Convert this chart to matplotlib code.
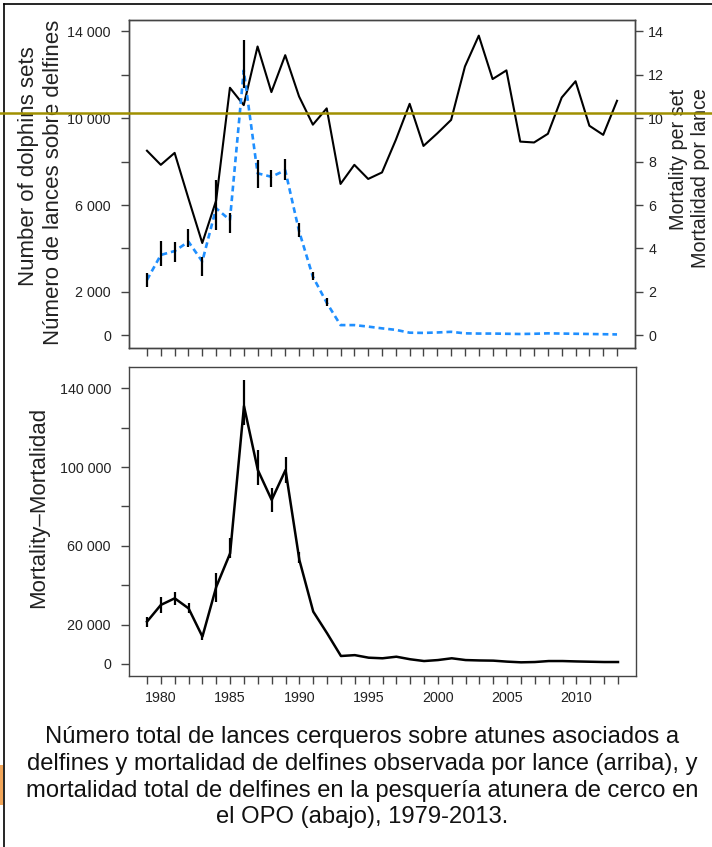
import numpy as np, matplotlib; matplotlib.use("Agg")
import matplotlib.pyplot as plt
from matplotlib.lines import Line2D
from matplotlib.patches import Rectangle

plt.rcParams['font.family'] = ['Liberation Sans', 'DejaVu Sans']

years = list(range(1979, 2014))
# number of dolphin sets (left axis, top panel)
sets = [8500, 7850, 8400, 6300, 4250, 6200, 11400, 10600, 13300, 11200,
        12900, 11000, 9700, 10450, 6970, 7850, 7200, 7500, 9000, 10660,
        8720, 9300, 9920, 12380, 13800, 11800, 12200, 8920, 8880, 9280,
        10950, 11700, 9650, 9230, 10800]
# mortality per set (right axis, top panel)
mps = [2.55, 3.70, 3.88, 4.31, 3.40, 5.85, 5.31, 12.2, 7.46, 7.30,
       7.60, 4.80, 2.70, 1.50, 0.47, 0.47, 0.40, 0.32, 0.25, 0.12,
       0.11, 0.13, 0.16, 0.09, 0.08, 0.08, 0.07, 0.06, 0.07, 0.09,
       0.08, 0.07, 0.06, 0.05, 0.04]
mps_err_years = [1979, 1980, 1981, 1982, 1983, 1984, 1985, 1986, 1987, 1988, 1989, 1990, 1991, 1992]
mps_lo = [2.21, 3.19, 3.39, 4.08, 2.73, 4.85, 4.70, 11.4, 6.77, 6.84, 7.15, 4.54, 2.55, 1.35]
mps_hi = [2.86, 4.34, 4.31, 4.88, 3.62, 7.15, 5.62, 13.6, 8.07, 7.61, 8.10, 5.16, 2.93, 1.70]
# total mortality (bottom panel)
mort = [21500, 30000, 33350, 28250, 13900, 39200, 56200, 131000, 98500, 83300,
        98500, 52800, 26600, 15600, 4060, 4500, 3200, 2900, 3700, 2400,
        1500, 2000, 2900, 2000, 1800, 1700, 1200, 850, 1000, 1500,
        1500, 1300, 1150, 1000, 1000]
mort_err_years = [1979, 1980, 1981, 1982, 1983, 1984, 1985, 1986, 1987, 1988, 1989, 1990]
mort_lo = [18950, 25700, 29960, 25700, 12200, 31650, 53700, 121400, 90900, 77300, 91800, 51100]
mort_hi = [24000, 34200, 36700, 30800, 15600, 46400, 63800, 144200, 108700, 89200, 105300, 57000]

left_ticks = list(range(0, 14001, 2000))
left_labels = ['0', '2 000', '', '6 000', '', '10 000', '', '14 000']
right_ticks = list(range(0, 15, 2))
bot_ticks = list(range(0, 140001, 20000))
bot_labels = ['0', '20 000', '', '60 000', '', '100 000', '', '140 000']
year_labels = list(range(1980, 2011, 5))

caption = ["Número total de lances cerqueros sobre atunes asociados a",
           "delfines y mortalidad de delfines observada por lance (arriba), y",
           "mortalidad total de delfines en la pesquería atunera de cerco en",
           "el OPO (abajo), 1979-2013."]

W, H = 712, 847
fig = plt.figure(figsize=(W/100, H/100), dpi=100)
BLUE = '#1f8fff'; SP = '#444444'

ax1 = fig.add_axes([129/W, 1-348/H, 506/W, 328/H])
ax2 = ax1.twinx()
ax3 = fig.add_axes([129/W, 1-676/H, 507/W, 309/H])

ax1.plot(years, sets, color='black', lw=1.5, zorder=3)
ax2.plot(years, mps, color=BLUE, lw=1.9, dashes=(2.2, 1.5), zorder=2)
ax2.vlines(mps_err_years, mps_lo, mps_hi, color='black', lw=1.6, zorder=4)
ax1.set_xlim(1977.7, 2014.3)
ax1.set_ylim(-585, 14520); ax2.set_ylim(-0.585, 14.52)
ax1.set_xticks(years); ax1.set_xticklabels([])
ax1.set_yticks(left_ticks); ax1.set_yticklabels(left_labels)
ax2.set_yticks(right_ticks)

ax3.plot(years, mort, color='black', lw=1.8, zorder=3)
ax3.vlines(mort_err_years, mort_lo, mort_hi, color='black', lw=1.6, zorder=4)
ax3.set_xlim(1977.7, 2014.3); ax3.set_ylim(-6094, 150800)
ax3.set_xticks(years)
ax3.set_xticklabels([str(y) if y in year_labels else '' for y in years])
ax3.set_yticks(bot_ticks); ax3.set_yticklabels(bot_labels)

for a in [ax1, ax2, ax3]:
    for s in a.spines.values(): s.set_color(SP); s.set_linewidth(1.0)
    a.tick_params(colors=SP, labelcolor='#222', labelsize=10.3, length=6, width=1.0)
ax1.tick_params(axis='y', pad=7); ax3.tick_params(axis='y', pad=7)
ax2.tick_params(axis='y', pad=3.5)
ax1.tick_params(axis='x', length=5.5)
ax3.tick_params(axis='x', pad=5)

fig.text(29/W, 1-166/H, "Number of dolphins sets", rotation=90, ha='center', va='center', fontsize=16, color='#222')
fig.text(54/W, 1-182/H, "Número de lances sobre delfines", rotation=90, ha='center', va='center', fontsize=16, color='#222')
fig.text(678/W, 1-159/H, "Mortality per set", rotation=90, ha='center', va='center', fontsize=14.2, color='#222')
fig.text(700/W, 1-178/H, "Mortalidad por lance", rotation=90, ha='center', va='center', fontsize=14.2, color='#222')
fig.text(39/W, 1-507/H, "Mortality–Mortalidad", rotation=90, ha='center', va='center', fontsize=16, color='#222')

for i, line in enumerate(caption):
    fig.text(362/W, 1-(743+26.8*i)/H, line, ha='center', va='baseline', fontsize=17.1, color='#111')

# slide frame, guide line and orange mark
fig.add_artist(Line2D([3.5/W, 3.5/W], [0, 1-4/H], color='black', lw=1.2))
fig.add_artist(Line2D([3.5/W, 1], [1-4/H, 1-4/H], color='black', lw=1.2))
fig.add_artist(Line2D([0, 1], [1-112.7/H, 1-112.7/H], color='#a09000', lw=1.8, zorder=10))
fig.add_artist(Rectangle((0, 1-805/H), 3/W, 40/H, color='#f2a65a', lw=0))

fig.savefig("out.png", dpi=100)
